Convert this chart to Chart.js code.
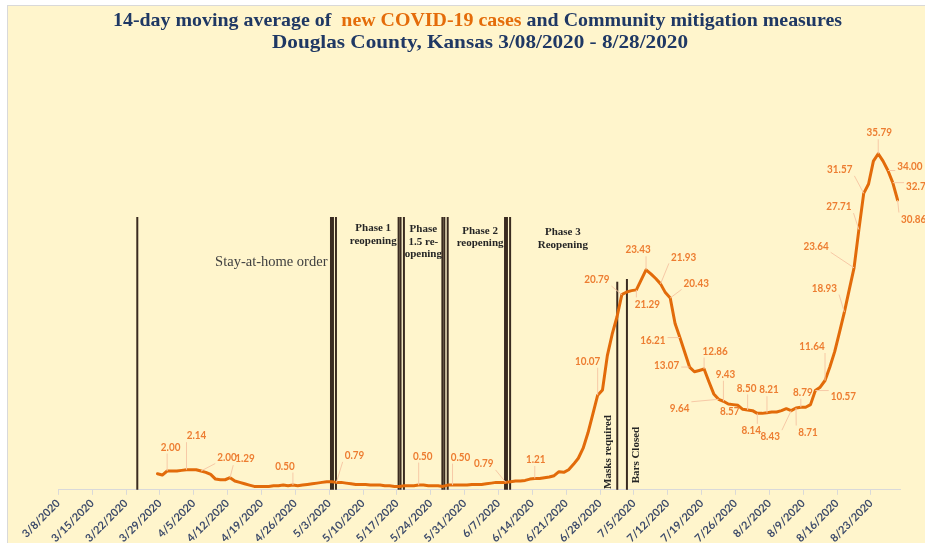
<!DOCTYPE html>
<html><head><meta charset="utf-8">
<script src="https://cdn.jsdelivr.net/npm/chart.js@4.4.0/dist/chart.umd.min.js"></script>
<style>html,body{margin:0;padding:0;background:#fff;}</style>
</head><body>
<canvas id="c" width="925" height="543"></canvas>
<script>
// ---------- DATA ----------
const axisStart = '3/8/2020';          // day 0
const firstDataDay = 20;               // 3/28/2020
// 14-day moving average of new cases, daily from 3/28/2020 to 8/28/2020
const caseAvg = [
 1.71,1.57,2.00,2.00,2.00,2.07,2.14,2.14,2.14,2.00,        // 3/28 - 4/6
 1.86,1.64,1.14,1.07,1.07,1.29,0.93,0.79,0.64,0.50,        // 4/7 - 4/16
 0.36,0.36,0.36,0.36,0.43,0.43,0.50,0.43,0.50,0.43,        // 4/17 - 4/26
 0.50,0.57,0.64,0.71,0.79,0.86,0.86,0.79,0.79,0.71,        // 4/27 - 5/6
 0.64,0.57,0.57,0.57,0.50,0.50,0.50,0.43,0.43,0.36,        // 5/7 - 5/16
 0.36,0.43,0.43,0.43,0.50,0.50,0.43,0.43,0.43,0.36,        // 5/17 - 5/26
 0.50,0.50,0.50,0.50,0.50,0.57,0.57,0.57,0.64,0.71,        // 5/27 - 6/5
 0.79,0.79,0.79,0.86,0.93,0.93,1.00,1.14,1.21,1.21,        // 6/6 - 6/15
 1.29,1.36,1.50,1.93,1.86,2.14,2.71,3.36,4.43,6.07,        // 6/16 - 6/25
 8.07,10.07,10.64,14.29,16.57,18.43,20.79,21.07,21.21,21.29, // 6/26 - 7/5
 22.36,23.43,23.00,22.50,21.93,21.00,20.43,17.71,16.21,14.64, // 7/6 - 7/15
 13.07,12.57,12.71,12.86,11.50,10.21,9.64,9.43,9.14,9.07,  // 7/16 - 7/25
 9.00,8.57,8.50,8.43,8.14,8.14,8.21,8.29,8.29,8.43,        // 7/26 - 8/4
 8.64,8.43,8.71,8.79,8.79,9.07,10.57,10.93,11.64,13.07,    // 8/5 - 8/14
 14.71,16.79,18.93,21.29,23.64,27.71,31.57,32.57,35.00,35.79, // 8/15 - 8/24
 35.00,34.00,32.71,30.86                                    // 8/25 - 8/28
];
const tickDays = [0,7,14,21,28,35,42,49,56,63,70,77,84,91,98,105,112,119,126,133,140,147,154,161,168];
const tickLabels = ['3/8/2020','3/15/2020','3/22/2020','3/29/2020','4/5/2020','4/12/2020','4/19/2020','4/26/2020',
 '5/3/2020','5/10/2020','5/17/2020','5/24/2020','5/31/2020','6/7/2020','6/14/2020','6/21/2020','6/28/2020',
 '7/5/2020','7/12/2020','7/19/2020','7/26/2020','8/2/2020','8/9/2020','8/16/2020','8/23/2020'];
// mitigation boundaries (day index, top value)
const measureDays = [15.83, 55.87, 56.28, 56.9, 69.85, 70.25, 70.95, 78.9, 79.3, 80.0, 91.85, 92.25, 92.9, 115.05, 117.05];
const measureTops = [29.05, 29.05, 29.05, 29.05, 29.05, 29.05, 29.05, 29.05, 29.05, 29.05, 29.05, 29.05, 29.05, 22.16, 22.45];
const measureNames = [
 ['Stay-at-home order'], ['Phase 1','reopening'], ['Phase','1.5 re-','opening'],
 ['Phase 2','reopening'], ['Phase 3','Reopening'], ['Masks required'], ['Bars Closed']
];
// ---------- STYLE / PLACEMENT ----------
const measureTextPos = [ // [day, value] of first line centre
 [43.53,24.19],[64.6,27.85],[74.96,27.74],[86.7,27.59],[103.8,27.49],[113.2,4.03],[119.05,3.7]
];
const measureTextStyle = [
 {font:'14.5px "Liberation Serif"', color:'#404040', lh:13, rot:0},
 {font:'bold 11px "Liberation Serif"', color:'#262626', lh:13.3, rot:0},
 {font:'bold 11px "Liberation Serif"', color:'#262626', lh:12.5, rot:0},
 {font:'bold 11px "Liberation Serif"', color:'#262626', lh:12.6, rot:0},
 {font:'bold 11px "Liberation Serif"', color:'#262626', lh:13, rot:0},
 {font:'bold 11px "Liberation Serif"', color:'#262626', lh:13, rot:-Math.PI/2},
 {font:'bold 11px "Liberation Serif"', color:'#262626', lh:13, rot:-Math.PI/2}
];
// data-label offsets in px, keyed by data index
const labelOffsets = {
 2:[3.5,-24], 6:[10,-34], 9:[26,-14], 15:[15,-19], 28:[-8,-19], 37:[18,-27], 54:[4,-29], 61:[8,-28],
 72:[-22,-19], 78:[1,-19], 91:[-10,-34], 96:[-25,-15], 99:[11,14], 101:[-8,-20], 104:[23,-27],
 106:[26,-15], 108:[-27,3], 110:[-23,-2], 113:[11,-18], 116:[-39,9], 117:[2,-27], 121:[-13,2],
 122:[-1,-22], 124:[-6,17], 126:[2,-23], 131:[-21,26], 132:[12,24], 133:[2,-15], 136:[28,6],
 138:[-13,-34], 142:[-20,-24], 144:[-38,-22], 145:[-20,-23], 146:[-24,-24], 149:[1,-21],
 151:[22,-4], 152:[26,4], 153:[16,19]
};

const points = caseAvg.map((v,i)=>({x:firstDataDay+i, y:v}));

const bgPlugin = {
 id:'bg',
 beforeDraw(chart){
  const ctx=chart.ctx, W=chart.width, H=chart.height;
  ctx.save();
  ctx.fillStyle='#ffffff'; ctx.fillRect(0,0,W,H);
  ctx.fillStyle='#D9D9D9'; ctx.fillRect(7,5,W-7,H-5);
  ctx.fillStyle='#FFF5CC'; ctx.fillRect(8,6,W-8,H-6);
  ctx.restore();
 }
};

function drawRich(ctx, pieces, cx, y, font, targetW){
 ctx.save();
 ctx.font=font; ctx.textBaseline='middle'; ctx.textAlign='left';
 const ws=pieces.map(p=>ctx.measureText(p.t).width);
 const tot=ws.reduce((a,b)=>a+b,0);
 const sx=targetW/tot;
 ctx.translate(cx-targetW/2,y); ctx.scale(sx,1);
 let x=0;
 pieces.forEach((p,i)=>{ctx.fillStyle=p.c; ctx.fillText(p.t,x,0); x+=ws[i];});
 ctx.restore();
}

const titlePlugin = {
 id:'titleRich',
 afterDraw(chart){
  const ctx=chart.ctx;
  const navy='#1F3864', orange='#E46C0A';
  drawRich(ctx,[{t:'14-day moving average of  ',c:navy},{t:'new COVID-19 cases',c:orange},{t:' and Community mitigation measures',c:navy}],
   477.5,20.5,'bold 19.5px "Liberation Serif"',729);
  drawRich(ctx,[{t:'Douglas County, Kansas 3/08/2020 - 8/28/2020',c:navy}],480,42.5,'bold 19.5px "Liberation Serif"',416);
 }
};

const measurePlugin = {
 id:'measures',
 beforeDatasetsDraw(chart){
  const ctx=chart.ctx, xs=chart.scales.x, ys=chart.scales.y;
  ctx.save();
  ctx.strokeStyle='#3A2B20'; ctx.lineWidth=2;
  measureDays.forEach((d,i)=>{
   const x=xs.getPixelForValue(d);
   ctx.beginPath(); ctx.moveTo(x,ys.getPixelForValue(measureTops[i])); ctx.lineTo(x,ys.getPixelForValue(0)); ctx.stroke();
  });
  measureNames.forEach((lines,i)=>{
   const st=measureTextStyle[i];
   const x=xs.getPixelForValue(measureTextPos[i][0]), y=ys.getPixelForValue(measureTextPos[i][1]);
   ctx.save();
   ctx.font=st.font; ctx.fillStyle=st.color; ctx.textAlign='center'; ctx.textBaseline='middle';
   ctx.translate(x,y); ctx.rotate(st.rot);
   lines.forEach((t,k)=>ctx.fillText(t,0,k*st.lh));
   ctx.restore();
  });
  ctx.restore();
 }
};

const labelPlugin = {
 id:'dlabels',
 afterDatasetsDraw(chart){
  const ctx=chart.ctx, meta=chart.getDatasetMeta(0);
  ctx.save();
  ctx.font='bold 11.5px Lato'; ctx.textAlign='center'; ctx.textBaseline='middle';
  const sx=0.86;
  Object.keys(labelOffsets).forEach(k=>{
   const i=+k, el=meta.data[i]; if(!el) return;
   const [dx,dy]=labelOffsets[k];
   const lx=el.x+dx, ly=el.y+dy;
   const txt=caseAvg[i].toFixed(2);
   const w=ctx.measureText(txt).width*sx, h=11;
   const cx=Math.max(lx-w/2-2,Math.min(el.x,lx+w/2+2));
   const cy=Math.max(ly-h/2-1,Math.min(el.y,ly+h/2+1));
   const dist=Math.hypot(cx-el.x,cy-el.y);
   if(dist>5){
    ctx.strokeStyle='#F7C9A6'; ctx.lineWidth=1;
    ctx.beginPath(); ctx.moveTo(el.x,el.y); ctx.lineTo(cx,cy); ctx.stroke();
   }
   ctx.save(); ctx.translate(lx,ly); ctx.scale(sx,1);
   ctx.fillStyle='#ED7D31'; ctx.fillText(txt,0,0);
   ctx.restore();
  });
  ctx.restore();
 }
};

new Chart(document.getElementById('c'),{
 type:'line',
 data:{datasets:[{data:points, borderColor:'#E26B0A', borderWidth:3, pointRadius:0, tension:0,
   borderJoinStyle:'round', borderCapStyle:'round', fill:false}]},
 options:{
  responsive:false, animation:false, devicePixelRatio:1,
  layout:{padding:{left:58.3,right:25,top:67.25,bottom:0}},
  plugins:{legend:{display:false},title:{display:false},tooltip:{enabled:false}},
  scales:{
   x:{type:'linear', min:-0.5, max:173.5,
      afterBuildTicks:s=>{s.ticks=tickDays.map(d=>({value:d-0.5}));},
      afterFit:s=>{s.height=53.2;},
      ticks:{autoSkip:false,maxRotation:45,minRotation:45,color:'#3E4C6B',padding:2,
        font:{family:'Lato',size:11,weight:'bold'},
        callback:(v,i)=>tickLabels[i]},
      grid:{drawOnChartArea:false,drawTicks:true,tickLength:5,color:'#D9D9D9'},
      border:{color:'#D9D9D9',width:1}
   },
   y:{display:false,min:0,max:45}
  }
 },
 plugins:[bgPlugin,measurePlugin,labelPlugin,titlePlugin]
});
</script>
</body></html>
